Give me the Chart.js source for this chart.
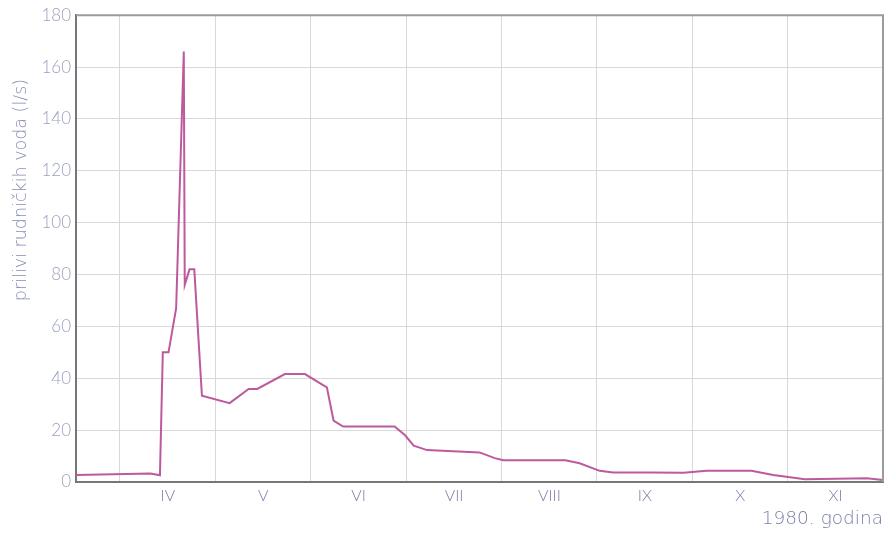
<!DOCTYPE html>
<html>
<head>
<meta charset="utf-8">
<script src="https://cdn.jsdelivr.net/npm/chart.js@4.4.0/dist/chart.umd.min.js"></script>
<style>
  body { margin: 0; background: #fff; }
  #wrap { width: 888px; height: 533px; }
</style>
</head>
<body>
<div id="wrap"><canvas id="chart" width="888" height="533"></canvas></div>
<script>
// time axis in months (4 = 1 April), flow in l/s
const monthPos = [3.54, 4.32, 4.42, 4.45, 4.51, 4.59, 4.67, 4.68, 4.73, 4.78, 4.86, 5.15, 5.35, 5.44, 5.73, 5.94, 6.17, 6.24, 6.34, 6.88, 6.99, 7.08, 7.22, 7.77, 7.93, 8.02, 8.67, 8.82, 9.03, 9.17, 9.56, 9.91, 10.15, 10.62, 10.85, 11.18, 11.83, 12.0];
const flow = [2.7, 3.3, 2.6, 50, 50, 67, 166, 76, 82, 82, 33.3, 30.4, 35.9, 35.9, 41.6, 41.6, 36.5, 23.7, 21.4, 21.4, 18, 14, 12.3, 11.4, 9.2, 8.4, 8.4, 7.2, 4.3, 3.7, 3.7, 3.6, 4.3, 4.3, 2.7, 1.1, 1.4, 0.8];

const monthTicks = [4, 5, 6, 7, 8, 9, 10, 11];
const monthLabels = ['IV', 'V', 'VI', 'VII', 'VIII', 'IX', 'X', 'XI'];
const flowTicks = [0, 20, 40, 60, 80, 100, 120, 140, 160, 180];
const yTitle = 'prilivi rudničkih voda (l/s)';

const fontFam = 'Lato, "DejaVu Sans", sans-serif';
const titleFam = '"DejaVu Sans", sans-serif';

// top and right frame lines, plus the y title (sits above the axis centre in the original)
const framePlugin = {
    id: 'frame',
    afterDraw(chart) {
        const a = chart.chartArea;
        const ctx = chart.ctx;
        ctx.save();
        ctx.strokeStyle = '#9c9c9c';
        ctx.lineWidth = 2;
        ctx.beginPath();
        ctx.moveTo(a.left, a.top);
        ctx.lineTo(a.right, a.top);
        ctx.lineTo(a.right, a.bottom);
        ctx.stroke();

        ctx.translate(26, 190);
        ctx.rotate(-Math.PI / 2);
        ctx.font = '200 17.5px ' + titleFam;
        ctx.fillStyle = '#878cb6';
        ctx.textAlign = 'center';
        ctx.textBaseline = 'alphabetic';
        ctx.fillText(yTitle, 0, 0);
        ctx.restore();
    }
};

const ctx = document.getElementById('chart').getContext('2d');
new Chart(ctx, {
    type: 'line',
    data: {
        datasets: [{
            data: monthPos.map((m, i) => ({ x: m, y: flow[i] })),
            borderColor: '#bd5a9c',
            borderWidth: 2,
            pointRadius: 0,
            tension: 0,
            fill: false
        }]
    },
    options: {
        responsive: false,
        animation: false,
        layout: { padding: { top: 12, right: 5, left: 0, bottom: 0 } },
        plugins: { legend: { display: false }, tooltip: { enabled: false } },
        scales: {
            x: {
                type: 'linear',
                min: 3.54,
                max: 12,
                afterBuildTicks: s => { s.ticks = monthTicks.map(v => ({ value: v })); },
                afterFit: s => { s.height = 51; },
                grid: { color: '#d9d9d9', lineWidth: 1, drawTicks: false },
                border: { color: '#777', width: 2 },
                ticks: {
                    autoSkip: false,
                    maxRotation: 0,
                    padding: 4,
                    labelOffset: 48,
                    color: '#7b80a8',
                    font: { family: fontFam, size: 16, weight: 300 },
                    callback: v => monthLabels[monthTicks.indexOf(v)]
                },
                title: {
                    display: true,
                    text: '1980. godina',
                    align: 'end',
                    color: '#7b80a8',
                    font: { family: titleFam, size: 18.5, weight: 200 },
                    padding: { top: 0, bottom: 3 }
                }
            },
            y: {
                min: 0,
                max: 180,
                afterBuildTicks: s => { s.ticks = flowTicks.map(v => ({ value: v })); },
                afterFit: s => { s.width = 76; },
                grid: { color: '#d9d9d9', lineWidth: 1, drawTicks: false },
                border: { color: '#777', width: 2 },
                ticks: {
                    padding: 5,
                    color: '#9ca1bf',
                    font: { family: fontFam, size: 17, weight: 300 }
                }
            }
        }
    },
    plugins: [framePlugin]
});
</script>
</body>
</html>
